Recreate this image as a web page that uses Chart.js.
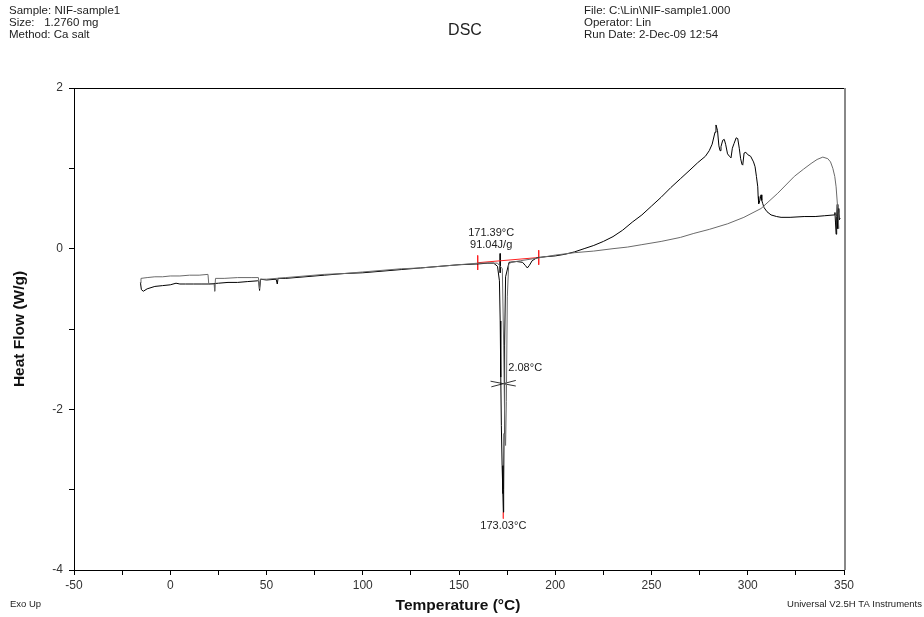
<!DOCTYPE html>
<html>
<head>
<meta charset="utf-8">
<script src="https://cdn.jsdelivr.net/npm/chart.js@4/dist/chart.umd.min.js"></script>
<style>
html,body{margin:0;padding:0;background:#fff;}
canvas{display:block;}
</style>
</head>
<body>
<canvas id="c" width="924" height="617"></canvas>
<script>
// ---- Data ----
// Trace A (black): melting at 173 °C, exotherm peak ~283 °C
const tempA = [-15.5,-15,-14,-12,-8,-4,0,3,5,8,12,16,20,25,30,35,40,45.5,46,46.4,46.9,50,55,55.6,56,60,70,80,90,100,110,120,130,140,150,160,165,168,170,171,171.4,171.7,172,172.4,172.8,173.03,173.2,173.4,173.7,174.2,176,180,183,184.5,185.5,186.5,188,190,191,195,200,205,210,215,220,225,230,235,240,245,250,255,260,265,270,274,278,280,281.5,283,283.5,284.3,285,285.6,286.1,287,287.8,288.5,289.5,290.5,291.3,292,292.9,294,294.8,295.6,296.3,297,297.4,298.1,299,300,301.5,303,303.8,304.5,305.2,305.4,305.7,306.3,306.9,307.3,307.8,308.5,310,312.1,315,317.3,322,329.3,335,340,344.9,345.3,345.6,345.9,346.2,346.5,346.8,347,347.3,347.6,348];
const heatA = [-0.42,-0.51,-0.53,-0.5,-0.47,-0.46,-0.45,-0.43,-0.44,-0.44,-0.44,-0.44,-0.44,-0.43,-0.42,-0.42,-0.41,-0.40,-0.41,-0.52,-0.38,-0.39,-0.38,-0.44,-0.37,-0.37,-0.35,-0.33,-0.31,-0.30,-0.28,-0.26,-0.24,-0.22,-0.20,-0.19,-0.18,-0.18,-0.22,-0.4,-0.9,-1.6,-2.2,-2.7,-3.05,-3.28,-3.0,-2.3,-1.2,-0.35,-0.17,-0.16,-0.17,-0.21,-0.24,-0.21,-0.15,-0.12,-0.11,-0.10,-0.09,-0.07,-0.04,0.0,0.04,0.09,0.15,0.23,0.33,0.42,0.53,0.64,0.76,0.87,0.98,1.07,1.15,1.22,1.3,1.45,1.54,1.47,1.28,1.22,1.27,1.35,1.36,1.3,1.18,1.15,1.13,1.25,1.31,1.38,1.37,1.25,1.12,1.05,1.04,1.19,1.2,1.17,1.15,1.08,1.02,0.9,0.77,0.65,0.56,0.6,0.67,0.6,0.56,0.51,0.46,0.42,0.40,0.39,0.39,0.40,0.40,0.41,0.42,0.45,0.32,0.18,0.40,0.55,0.25,0.45,0.50,0.36,0.38];

// Trace B (grey): melting near 174 °C, broad exotherm peak ~340 °C
const tempB = [-15.5,-15.2,-12,-8,-4,0,5,10,15,19.6,20,21,22.8,23.1,23.5,28,35,42,45.8,46.3,46.8,50,60,70,80,90,100,110,120,130,140,150,160,166,170,172.5,173.2,173.8,174.2,174.6,175.1,175.8,177,182,190,200,210,220,230,237.6,245,255,265,272,280,289.6,298,306.9,315.6,324.2,329,332.9,336,339,341.6,343,344.2,345.2,345.9,346.8,347.3];
const heatB = [-0.43,-0.37,-0.36,-0.35,-0.35,-0.34,-0.34,-0.33,-0.33,-0.32,-0.44,-0.44,-0.44,-0.53,-0.37,-0.37,-0.36,-0.36,-0.36,-0.50,-0.38,-0.38,-0.36,-0.34,-0.32,-0.31,-0.29,-0.27,-0.25,-0.24,-0.22,-0.20,-0.18,-0.18,-0.18,-0.25,-1.2,-2.3,-2.45,-1.9,-0.6,-0.2,-0.17,-0.15,-0.12,-0.08,-0.05,-0.03,0.0,0.02,0.05,0.09,0.14,0.19,0.24,0.31,0.39,0.50,0.69,0.90,0.99,1.06,1.11,1.14,1.12,1.08,1.0,0.9,0.77,0.48,0.25];

// Analysis marks
const baseT = [159.7, 191.4];
const baseH = [-0.175, -0.11];
const onsetT = 171.39, peakT = 173.03, peakH = -3.28;
const halfH = -1.68;
const crossT1 = [166.4, 179.5], crossH1 = [-1.65, -1.71];
const crossT2 = [166.8, 179.5], crossH2 = [-1.72, -1.64];
const labelOnset = ['171.39°C', '91.04J/g'];
const labelWidth = '2.08°C';
const labelPeak = '173.03°C';

// Axis / text content
const xTicksMajor = [-50, 0, 50, 100, 150, 200, 250, 300, 350];
const yTicksMajor = [-4, -2, 0, 2];
const headerLeft = ['Sample: NIF-sample1', 'Size:   1.2760 mg', 'Method: Ca salt'];
const headerRight = ['File: C:\\Lin\\NIF-sample1.000', 'Operator: Lin', 'Run Date: 2-Dec-09 12:54'];
const titleText = 'DSC';
const xTitle = 'Temperature (°C)';
const yTitle = 'Heat Flow (W/g)';
const footLeft = 'Exo Up';
const footRight = 'Universal V2.5H TA Instruments';

const pts = (xs, ys) => xs.map((x, i) => ({x: x, y: ys[i]}));
const FONT = '"Liberation Sans", Arial, sans-serif';

const lineDS = (data, color, width) => ({
  data: data, borderColor: color, borderWidth: width, showLine: true,
  pointRadius: 0, fill: false, tension: 0
});

const datasets = [
  lineDS(pts(tempB, heatB), '#6a6a6a', 1),
  lineDS(pts(tempA, heatA), '#000000', 1),
  lineDS(pts(baseT, baseH), '#ff2020', 1),
  lineDS(pts([baseT[0], baseT[0]], [baseH[0] + 0.09, baseH[0] - 0.09]), '#ff2020', 1),
  lineDS(pts([baseT[1], baseT[1]], [baseH[1] + 0.09, baseH[1] - 0.09]), '#ff2020', 1),
  lineDS(pts([onsetT, onsetT], [-0.06, -0.3]), '#000000', 1),
  lineDS(pts([peakT, peakT], [peakH, peakH - 0.08]), '#ff4040', 1),
  lineDS(pts(crossT1, crossH1), '#333333', 1),
  lineDS(pts(crossT2, crossH2), '#333333', 1)
];

const textPlugin = {
  id: 'texts',
  afterDraw(chart) {
    const ctx = chart.ctx;
    const a = chart.chartArea;
    const xs = chart.scales.x, ys = chart.scales.y;
    ctx.save();
    // frame top and right
    ctx.strokeStyle = '#000';
    ctx.lineWidth = 1;
    ctx.beginPath();
    ctx.moveTo(a.left, a.top + 0.5);
    ctx.lineTo(a.right, a.top + 0.5);
    ctx.stroke();
    ctx.strokeStyle = '#888';
    ctx.lineWidth = 2;
    ctx.beginPath();
    ctx.moveTo(a.right + 1, a.top);
    ctx.lineTo(a.right + 1, a.bottom);
    ctx.stroke();

    ctx.fillStyle = '#222';
    ctx.textBaseline = 'middle';
    // header
    ctx.font = '11.5px ' + FONT;
    ctx.textAlign = 'left';
    headerLeft.forEach((s, i) => ctx.fillText(s, 9, 11 + i * 12));
    headerRight.forEach((s, i) => ctx.fillText(s, 584, 11 + i * 12));
    ctx.font = '16px ' + FONT;
    ctx.textAlign = 'center';
    ctx.fillText(titleText, 465, 31);

    // annotations
    ctx.font = '11px ' + FONT;
    ctx.fillStyle = '#222';
    const ox = xs.getPixelForValue(onsetT);
    ctx.textAlign = 'center';
    ctx.fillText(labelOnset[0], ox - 9, 233);
    ctx.fillText(labelOnset[1], ox - 9, 245);
    ctx.textAlign = 'left';
    ctx.fillText(labelWidth, xs.getPixelForValue(peakT) + 5, ys.getPixelForValue(halfH) - 16);
    ctx.textAlign = 'center';
    ctx.fillText(labelPeak, xs.getPixelForValue(peakT), ys.getPixelForValue(peakH) + 14);

    // axis titles
    ctx.font = 'bold 15.5px ' + FONT;
    ctx.fillStyle = '#111';
    ctx.textAlign = 'center';
    ctx.fillText(xTitle, (a.left + a.right) / 2 - 1, 606);
    ctx.save();
    ctx.translate(20, (a.top + a.bottom) / 2);
    ctx.rotate(-Math.PI / 2);
    ctx.fillText(yTitle, 0, 0);
    ctx.restore();

    // footers
    ctx.font = '9.5px ' + FONT;
    ctx.fillStyle = '#222';
    ctx.textAlign = 'left';
    ctx.fillText(footLeft, 10, 604);
    ctx.textAlign = 'right';
    ctx.fillText(footRight, 922, 604);
    ctx.restore();
  }
};

new Chart(document.getElementById('c'), {
  type: 'scatter',
  data: {datasets: datasets},
  options: {
    responsive: false,
    devicePixelRatio: 1,
    animation: false,
    layout: {padding: {left: 0, top: 88, right: 80, bottom: 0}},
    plugins: {legend: {display: false}, tooltip: {enabled: false}},
    scales: {
      x: {
        type: 'linear', min: -50, max: 350,
        afterFit: s => { s.height = 47; },
        ticks: {
          stepSize: 25, maxRotation: 0, autoSkip: false, padding: 3,
          color: '#333', font: {family: FONT, size: 12},
          callback: v => xTicksMajor.includes(v) ? String(v) : ''
        },
        grid: {display: true, drawOnChartArea: false, drawTicks: true, tickLength: 5, color: '#000'},
        border: {display: true, color: '#000', width: 1}
      },
      y: {
        type: 'linear', min: -4, max: 2,
        afterFit: s => { s.width = 74; },
        ticks: {
          stepSize: 1, padding: 6,
          color: '#333', font: {family: FONT, size: 12},
          callback: v => yTicksMajor.includes(v) ? String(v) : ''
        },
        grid: {display: true, drawOnChartArea: false, drawTicks: true, tickLength: 5, color: '#000'},
        border: {display: true, color: '#000', width: 1}
      }
    }
  },
  plugins: [textPlugin]
});
</script>
</body>
</html>
